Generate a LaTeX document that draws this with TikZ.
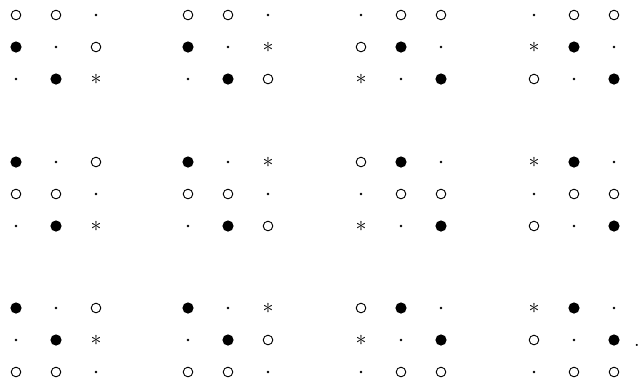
\documentclass[tikz,border=0pt]{standalone}
\usepackage{amsmath,amssymb}
\usepackage{tikz}

\begin{document}
\begin{tikzpicture}[
      x=0.5pt, y=-0.5pt,
      ocirc/.style={circle, draw=black, line width=0.45pt, inner sep=0pt,
                    minimum size=4.8pt},
      fcirc/.style={circle, fill=black, inner sep=0pt, minimum size=5.6pt},
      sdot/.style={circle, fill=black, inner sep=0pt, minimum size=1.4pt},
      aster/.style={inner sep=0pt, minimum size=5pt,
                    label={[inner sep=0pt, font=\fontsize{11}{13}\selectfont]center:$\ast$}},
    ]
    \useasboundingbox (0,0) rectangle (639,381);

    % twelve 3x3 arrays, entries read row by row
    \foreach \bx/\by/\m/\syms in {
        16/15/m11/{ocirc,ocirc,sdot, fcirc,sdot,ocirc, sdot,fcirc,aster},
        188/15/m12/{ocirc,ocirc,sdot, fcirc,sdot,aster, sdot,fcirc,ocirc},
        361/15/m13/{sdot,ocirc,ocirc, ocirc,fcirc,sdot, aster,sdot,fcirc},
        534/15/m14/{sdot,ocirc,ocirc, aster,fcirc,sdot, ocirc,sdot,fcirc},
        16/162/m21/{fcirc,sdot,ocirc, ocirc,ocirc,sdot, sdot,fcirc,aster},
        188/162/m22/{fcirc,sdot,aster, ocirc,ocirc,sdot, sdot,fcirc,ocirc},
        361/162/m23/{ocirc,fcirc,sdot, sdot,ocirc,ocirc, aster,sdot,fcirc},
        534/162/m24/{aster,fcirc,sdot, sdot,ocirc,ocirc, ocirc,sdot,fcirc},
        16/308/m31/{fcirc,sdot,ocirc, sdot,fcirc,aster, ocirc,ocirc,sdot},
        188/308/m32/{fcirc,sdot,aster, sdot,fcirc,ocirc, ocirc,ocirc,sdot},
        361/308/m33/{ocirc,fcirc,sdot, aster,sdot,fcirc, sdot,ocirc,ocirc},
        534/308/m34/{aster,fcirc,sdot, ocirc,sdot,fcirc, sdot,ocirc,ocirc}}
      \foreach \s [count=\k from 0] in \syms
        \node[\s] (\m-\k) at ({\bx+40*mod(\k,3)}, {\by+32*int(\k/3)}) {};

    % closing full stop
    \node[inner sep=0pt] (stop) at (637,345) {.};

  \end{tikzpicture}
\end{document}
